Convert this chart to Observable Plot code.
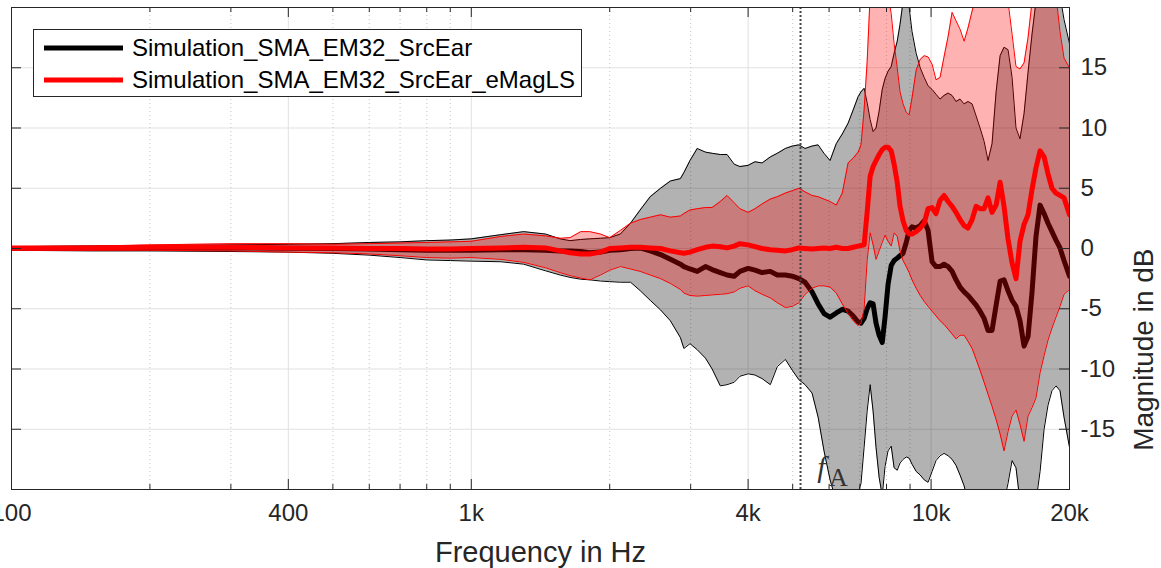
<!DOCTYPE html>
<html><head><meta charset="utf-8">
<script src="https://cdn.jsdelivr.net/npm/d3@7"></script>
<script src="https://cdn.jsdelivr.net/npm/@observablehq/plot@0.6"></script>
<style>
html,body{margin:0;padding:0;background:#fff;}
#wrap{position:relative;width:1161px;height:568px;overflow:hidden;font-family:'Liberation Sans',Arial,Helvetica,sans-serif;}
#legend{position:absolute;left:33px;top:29px;width:549px;height:68px;border:1px solid #262626;background:#fff;box-sizing:border-box;}
.sw{position:absolute;left:10px;width:79px;height:5px;transform:translateY(-50%);}
.lbl{position:absolute;left:98px;font-size:24px;line-height:24px;color:#000;white-space:nowrap;transform:translateY(-50%);}
</style></head>
<body><div id="wrap"><div id="chart"></div><div id="legend"></div></div>
<script>
// Frequencies (Hz)
const freq = [100,150,200,300,400,500,600,700,800,900,
1000,1160,1300,1450,1560,1640,1730,1810,1910,2000,
2110,2220,2330,2450,2580,2710,2850,2900,2990,3100,
3230,3340,3480,3600,3730,3840,4000,4140,4290,4470,
4630,4820,4990,5160,5320,5510,5680,5850,6030,6220,
6410,6600,6770,6940,7040,7150,7260,7370,7480,7590,
7710,7830,7940,8060,8190,8310,8440,8560,8690,8830,
8960,9090,9280,9470,9660,9850,10050,10250,10460,10670,
10890,11110,11330,11560,11800,12030,12280,12530,12780,13040,
13300,13570,13850,14130,14410,14700,15000,15300,15610,15930,
16250,16580,16910,17260,17610,17960,18320,18690,19070,19460,
20000];
// Simulation_SMA_EM32_SrcEar : upper / lower band and mean (dB)
const blackUpper = [0.15,0.2,0.25,0.3,0.35,0.4,0.5,0.55,0.65,0.7,
0.8,1.15,1.4,1.2,0.8,0.65,0.75,0.8,0.85,0.9,
1.2,2.1,3.2,4.3,5.0,5.6,5.8,6.3,7.3,8.3,
8.0,7.9,7.8,7.8,7.0,6.8,6.9,7.2,7.1,7.6,
7.9,8.3,8.5,8.6,8.3,8.5,8.6,7.9,7.3,8.7,
9.5,10.4,11.5,12.6,13.0,13.3,12.1,10.7,9.7,10.0,
11.4,13.2,14.1,14.7,15.1,16.2,17.2,18.6,20.5,21,
20,18,16.2,15.0,14.2,13.5,13.2,12.8,12.4,12.7,
12.9,12.7,12.2,12.4,12.0,12.2,12.0,11.0,10.0,8.9,
7.3,8.7,13.0,16.0,16.7,16.5,14.2,10.0,9.1,11.2,
14.6,17.8,20.5,21,21,21,21,21,21,19.0,
17.0];
const blackLower = [-0.15,-0.2,-0.2,-0.25,-0.3,-0.4,-0.55,-0.75,-0.95,-1.0,
-1.05,-1.1,-1.3,-1.85,-2.2,-2.4,-2.55,-2.6,-2.7,-2.75,
-2.8,-2.8,-3.5,-4.3,-5.1,-6.0,-7.4,-8.3,-7.9,-8.4,
-9.1,-10.0,-11.4,-11.3,-11.1,-10.6,-10.4,-10.5,-10.8,-11.3,
-9.8,-9.2,-10.1,-10.9,-11.3,-12.0,-14.0,-16.8,-19.2,-21,
-21,-21,-21,-20.2,-19.5,-16.5,-13.5,-11.3,-13.5,-16.5,
-19.0,-20.5,-18.1,-16.8,-16.4,-18.2,-18.4,-17.8,-17.5,-17.3,
-17.4,-17.9,-18.5,-18.8,-19.2,-19.4,-18.5,-17.6,-17.2,-17.0,
-17.2,-17.5,-18.0,-18.8,-19.7,-21,-21,-21,-21,-21,
-21,-21,-21,-21,-21,-19.5,-17.6,-18.2,-21,-21,
-21,-21,-21,-18.5,-15.0,-13.0,-11.8,-11.4,-11.8,-14.0,
-16.5];
const blackMean = [0,0.02,0.05,0.05,0.02,0,-0.05,-0.1,-0.15,-0.15,
-0.15,-0.1,-0.1,-0.15,-0.2,-0.2,-0.25,-0.35,-0.3,-0.15,
-0.1,0.0,0.05,-0.2,-0.5,-0.9,-1.3,-1.5,-1.7,-1.9,
-1.5,-1.75,-2.0,-2.2,-2.3,-1.9,-1.65,-1.8,-2.0,-1.9,
-2.2,-2.2,-2.3,-2.5,-2.8,-3.6,-4.6,-5.4,-5.7,-5.35,
-5.05,-5.2,-5.6,-6.1,-6.2,-5.8,-5.0,-4.5,-4.6,-6.2,
-7.2,-7.8,-5.7,-3.0,-1.4,-1.0,-0.8,-0.6,-0.4,0.5,
1.5,1.8,1.7,1.9,2.3,1.5,-1.1,-1.5,-1.5,-1.3,
-1.5,-1.9,-2.6,-3.2,-3.6,-3.9,-4.3,-4.7,-5.2,-5.8,
-6.8,-6.8,-4.7,-2.7,-2.6,-3.5,-4.3,-4.8,-6.0,-8.1,
-7.3,-3.6,1.0,3.6,2.9,2.1,1.4,0.7,0.05,-1.0,
-2.3];
// Simulation_SMA_EM32_SrcEar_eMagLS : upper / lower band and mean (dB)
const redUpper = [0.15,0.2,0.3,0.4,0.4,0.35,0.4,0.45,0.5,0.55,
0.6,1.0,1.2,1.05,0.85,0.9,1.4,1.4,1.2,0.9,
1.5,2.1,2.4,2.6,2.8,2.6,2.7,2.9,3.2,3.3,
3.4,3.4,3.9,4.4,3.8,3.3,3.0,3.3,3.7,4.1,
4.3,4.6,4.8,5.0,4.7,4.4,4.3,4.1,3.9,3.6,
4.6,7.1,7.5,8.0,8.6,11.5,15.5,21,21,21,
21,21,21,21,19.5,17.0,15.0,13.0,12.0,11.3,
11.1,12.5,14.8,15.7,16.0,15.9,15.3,14.0,14.2,15.9,
17.6,19.6,18.9,18.2,17.2,18.3,19.7,21,21,21,
21,21,21,21,21,20.5,17.8,15.1,14.9,15.4,
17.5,20.5,21,21,21,21,21,21,18.0,15.8,
15.0];
const redLower = [-0.15,-0.15,-0.15,-0.2,-0.3,-0.35,-0.45,-0.6,-0.75,-0.8,
-0.75,-0.9,-1.15,-1.6,-2.0,-2.25,-2.45,-2.6,-2.2,-1.8,
-1.5,-1.7,-1.9,-2.2,-2.5,-2.9,-3.4,-3.7,-3.9,-3.95,
-3.9,-3.85,-3.8,-3.75,-3.6,-3.3,-3.1,-3.5,-3.8,-4.1,
-4.5,-4.9,-4.8,-4.5,-3.8,-3.3,-3.1,-3.1,-3.2,-3.7,
-4.6,-5.4,-6.0,-6.4,-6.2,-5.0,-1.0,1.3,0.3,-0.9,
-0.2,0.5,1.1,0.6,0.2,1.3,1.0,-0.2,-1.0,-1.5,
-2.0,-2.6,-3.3,-3.9,-4.4,-4.8,-5.2,-5.6,-6.0,-6.3,
-6.7,-7.1,-7.5,-7.2,-7.2,-7.7,-8.3,-9.2,-10.1,-11.1,
-12.1,-13.1,-14.2,-15.4,-16.8,-15.2,-13.9,-13.4,-14.6,-16.0,
-13.9,-13.2,-12.4,-10.3,-8.9,-7.6,-6.6,-5.7,-4.8,-3.8,
-3.4];
const redMean = [0.05,0.05,0.1,0.1,0.05,0.05,0,0,-0.05,-0.05,
0,0.05,0.1,0.05,-0.2,-0.35,-0.45,-0.45,-0.3,0.0,
0.05,0.1,0.1,0.05,0.0,-0.2,-0.35,-0.4,-0.3,-0.1,
0.1,0.2,0.15,0.05,0.2,0.4,0.3,0.15,0.0,-0.1,
-0.15,-0.2,-0.1,0.05,0.0,-0.05,0.0,0.05,0.0,0.1,
0.0,0.0,0.1,0.2,0.25,0.3,3.0,6.0,6.8,7.3,
7.8,8.2,8.4,8.4,8.1,7.0,5.5,3.5,2.3,1.5,
1.2,1.2,1.4,1.7,2.1,3.3,3.4,2.9,4.0,4.4,
3.9,3.5,3.0,2.4,1.9,1.7,2.4,3.5,3.3,3.3,
4.2,3.0,3.6,5.5,3.5,0.8,-1.2,-2.5,0.6,2.0,
2.8,4.9,6.7,8.1,7.6,6.2,5.0,4.6,4.4,4.2,
2.8];

const seriesNames = ["Simulation_SMA_EM32_SrcEar", "Simulation_SMA_EM32_SrcEar_eMagLS"];
const seriesColors = ["#000000", "#ff0000"];
const aliasFreq = [5200];
const xMajor = [100, 400, 1000, 4000, 10000, 20000];
const xMinor = [200,300,500,600,700,800,900,2000,3000,5000,6000,7000,8000,9000];
const yTicks = [-15,-10,-5,0,5,10,15];

const rows = freq.map((f, i) => ({f, bU: blackUpper[i], bL: blackLower[i], bM: blackMean[i],
  rU: redUpper[i], rL: redLower[i], rM: redMean[i]}));

const W = 1161, H = 568, mL = 11, mR = 92, mT = 7, mB = 79;
const plotW = W - mL - mR, plotH = H - mT - mB;
const fmt = d => d >= 1000 ? (d / 1000) + "k" : String(d);
const axisColor = "#262626";

const chart = Plot.plot({
  width: W, height: H,
  marginLeft: mL, marginRight: mR, marginTop: mT, marginBottom: mB,
  x: {type: "log", domain: [100, 20000], axis: null},
  y: {domain: [-20, 20], axis: null},
  style: {fontFamily: "'Liberation Sans', Arial, Helvetica, sans-serif", fontSize: "24px", color: axisColor, background: "white"},
  marks: [
    Plot.ruleY(yTicks, {y: d => d, stroke: "#e1e1e1", strokeWidth: 1}),
    Plot.ruleX(xMajor, {x: d => d, stroke: "#e1e1e1", strokeWidth: 1}),
    Plot.ruleX(xMinor, {x: d => d, stroke: "#c4c4c4", strokeWidth: 1, strokeDasharray: "1,3"}),
    // black band
    Plot.areaY(rows, {x: "f", y1: "bL", y2: "bU", fill: seriesColors[0], fillOpacity: 0.3, clip: true}),
    Plot.line(rows, {x: "f", y: "bU", stroke: seriesColors[0], strokeWidth: 1, clip: true}),
    Plot.line(rows, {x: "f", y: "bL", stroke: seriesColors[0], strokeWidth: 1, clip: true}),
    Plot.line(rows, {x: "f", y: "bM", stroke: seriesColors[0], strokeWidth: 5, strokeLinejoin: "round", clip: true}),
    // red band
    Plot.areaY(rows, {x: "f", y1: "rL", y2: "rU", fill: seriesColors[1], fillOpacity: 0.3, clip: true}),
    Plot.line(rows, {x: "f", y: "rU", stroke: seriesColors[1], strokeWidth: 1, clip: true}),
    Plot.line(rows, {x: "f", y: "rL", stroke: seriesColors[1], strokeWidth: 1, clip: true}),
    // aliasing frequency
    Plot.ruleX(aliasFreq, {x: d => d, stroke: "#444", strokeWidth: 2, strokeDasharray: "2,2"}),
    Plot.line(rows, {x: "f", y: "rM", stroke: seriesColors[1], strokeWidth: 5, strokeLinejoin: "round", clip: true}),
    Plot.text(aliasFreq, {x: d => d, frameAnchor: "bottom", text: () => "f", dx: 21, dy: -13, lineAnchor: "bottom",
      fontFamily: "'Liberation Serif', 'DejaVu Serif', serif", fontStyle: "italic", fontSize: 30, fill: "#333"}),
    Plot.text(aliasFreq, {x: d => d, frameAnchor: "bottom", text: () => "A", dx: 38, dy: -4, lineAnchor: "bottom",
      fontFamily: "'Liberation Serif', 'DejaVu Serif', serif", fontSize: 26, fill: "#333"}),
    // frame and inward ticks
    Plot.frame({stroke: axisColor, strokeWidth: 1}),
    Plot.tickX(xMajor, {x: d => d, insetTop: plotH - 10, stroke: axisColor}),
    Plot.tickX(xMajor, {x: d => d, insetBottom: plotH - 10, stroke: axisColor}),
    Plot.tickX(xMinor, {x: d => d, insetTop: plotH - 5, stroke: axisColor}),
    Plot.tickX(xMinor, {x: d => d, insetBottom: plotH - 5, stroke: axisColor}),
    Plot.tickY(yTicks, {y: d => d, insetRight: plotW - 10, stroke: axisColor}),
    Plot.tickY(yTicks, {y: d => d, insetLeft: plotW - 10, stroke: axisColor}),
    // axes
    Plot.axisX({ticks: xMajor, tickFormat: fmt, tickSize: 0, tickPadding: 14, label: null, fontSize: 24, fill: axisColor}),
    Plot.axisY({anchor: "right", ticks: yTicks, tickFormat: d => String(d), tickSize: 0, tickPadding: 11, label: null, fontSize: 24, fill: axisColor}),
    Plot.text(["Frequency in Hz"], {frameAnchor: "bottom", text: d => d, dy: 63, fontSize: 29, fill: axisColor, lineAnchor: "middle"}),
    Plot.text(["Magnitude in dB"], {frameAnchor: "right", text: d => d, dx: 75, rotate: -90, fontSize: 28, fill: axisColor, lineAnchor: "middle"})
  ]
});
document.getElementById("chart").appendChild(chart);

// legend
const legend = document.getElementById("legend");
seriesNames.forEach((name, i) => {
  const cy = 18 + i * 32;
  const sw = document.createElement("div");
  sw.className = "sw"; sw.style.top = cy + "px"; sw.style.background = seriesColors[i];
  const lb = document.createElement("div");
  lb.className = "lbl"; lb.style.top = cy + "px"; lb.textContent = name;
  legend.appendChild(sw); legend.appendChild(lb);
});
</script>
</body></html>
